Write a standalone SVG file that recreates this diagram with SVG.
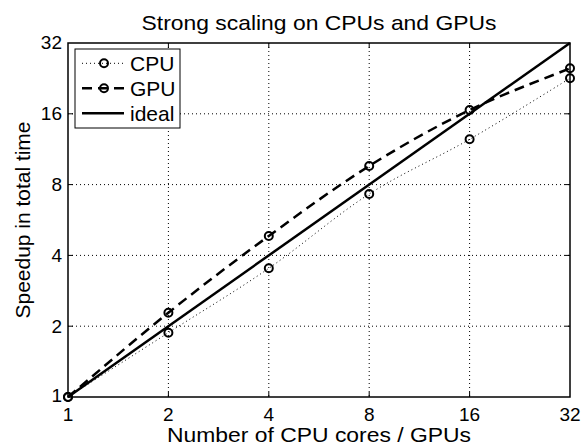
<svg xmlns="http://www.w3.org/2000/svg" width="582" height="447" viewBox="0 0 582 447">
  <style>
    text { font-family: "Liberation Sans", Arial, sans-serif; fill: #000; }
    .tick { font-size: 19px; }
    .lab { font-size: 21px; }
    .grid { stroke: #000; stroke-width: 1; stroke-dasharray: 1 3; fill: none; }
    .tk { stroke: #000; stroke-width: 1; }
    .mk { fill: none; stroke: #000; stroke-width: 2; }
    .ideal { fill: none; stroke: #000; stroke-width: 2.5; }
    .gpu { fill: none; stroke: #000; stroke-width: 2.5; stroke-dasharray: 10 6; }
    .cpu { fill: none; stroke: #000; stroke-width: 1; stroke-dasharray: 1 3; }
  </style>
  <rect width="582" height="447" fill="#fff"/>

  <!-- title and axis labels -->
  <text class="lab" x="319" y="30" text-anchor="middle" textLength="355" lengthAdjust="spacingAndGlyphs">Strong scaling on CPUs and GPUs</text>
  <text class="lab" x="319" y="442" text-anchor="middle" textLength="304" lengthAdjust="spacingAndGlyphs">Number of CPU cores / GPUs</text>
  <text class="lab" transform="translate(30,220) rotate(-90)" x="0" y="0" text-anchor="middle" textLength="197" lengthAdjust="spacingAndGlyphs">Speedup in total time</text>

  <!-- grid -->
  <g id="grid">
    <path class="grid" d="M168.4 43V397M268.8 43V397M369.2 43V397M469.6 43V397"/>
    <path class="grid" d="M68 326.2H570M68 255.4H570M68 184.6H570M68 113.8H570"/>
    <path class="tk" d="M168.4 397v-5M268.8 397v-5M369.2 397v-5M469.6 397v-5M168.4 43v5M268.8 43v5M369.2 43v5M469.6 43v5"/>
    <path class="tk" d="M68 326.2h5M68 255.4h5M68 184.6h5M68 113.8h5M570 326.2h-5M570 255.4h-5M570 184.6h-5M570 113.8h-5"/>
  </g>

  <!-- tick labels -->
  <g id="xticks" class="tick" text-anchor="middle">
    <text x="68" y="421">1</text>
    <text x="168.4" y="421">2</text>
    <text x="268.8" y="421">4</text>
    <text x="369.2" y="421">8</text>
    <text x="469.6" y="421">16</text>
    <text x="570" y="421">32</text>
  </g>
  <g id="yticks" class="tick" text-anchor="end">
    <text x="62" y="402">1</text>
    <text x="62" y="332.5">2</text>
    <text x="62" y="261.7">4</text>
    <text x="62" y="190.9">8</text>
    <text x="62" y="120.1">16</text>
    <text x="62" y="49.3">32</text>
  </g>

  <!-- data series -->
  <g id="series">
    <path id="ideal" class="ideal" d="M68 397L570 43"/>
    <path id="gpu" class="gpu" d="M68 397C84.73 382.95 134.93 339.53 168.4 312.7C201.87 285.87 235.33 260.45 268.8 236C302.27 211.55 335.73 187 369.2 166C402.67 145 436.13 126.28 469.6 110C503.07 93.72 553.27 75.25 570 68.3"/>
    <path id="cpu" class="cpu" d="M68 397C84.73 386.28 134.93 354.15 168.4 332.7C201.87 311.25 235.33 291.42 268.8 268.3C302.27 245.18 335.73 215.5 369.2 194C402.67 172.5 436.13 158.58 469.6 139.3C503.07 120.02 553.27 88.47 570 78.3"/>
    <g id="gpu-markers" class="mk">
      <circle cx="68" cy="397" r="4"/>
      <circle cx="168.4" cy="312.7" r="4"/>
      <circle cx="268.8" cy="236" r="4"/>
      <circle cx="369.2" cy="166" r="4"/>
      <circle cx="469.6" cy="110" r="4"/>
      <circle cx="570" cy="68.3" r="4"/>
    </g>
    <g id="cpu-markers" class="mk">
      <circle cx="68" cy="397" r="4"/>
      <circle cx="168.4" cy="332.7" r="4"/>
      <circle cx="268.8" cy="268.3" r="4"/>
      <circle cx="369.2" cy="194" r="4"/>
      <circle cx="469.6" cy="139.3" r="4"/>
      <circle cx="570" cy="78.3" r="4"/>
    </g>
  </g>

  <!-- axes box -->
  <rect id="axes" x="68" y="43" width="502" height="354" fill="none" stroke="#000" stroke-width="1.5"/>

  <!-- legend -->
  <g id="legend">
    <rect x="75" y="49" width="105" height="79" fill="#fff" stroke="#000" stroke-width="1"/>
    <path class="cpu" d="M82 63.3H124"/>
    <circle class="mk" cx="104" cy="63.3" r="4"/>
    <text class="lab" x="130" y="71">CPU</text>
    <path class="gpu" d="M82 88.3H124" stroke-dasharray="8 6"/>
    <circle class="mk" cx="104" cy="88.3" r="4"/>
    <text class="lab" x="130" y="96">GPU</text>
    <path class="ideal" d="M82 113.3H124"/>
    <text class="lab" x="130" y="121">ideal</text>
  </g>
</svg>
